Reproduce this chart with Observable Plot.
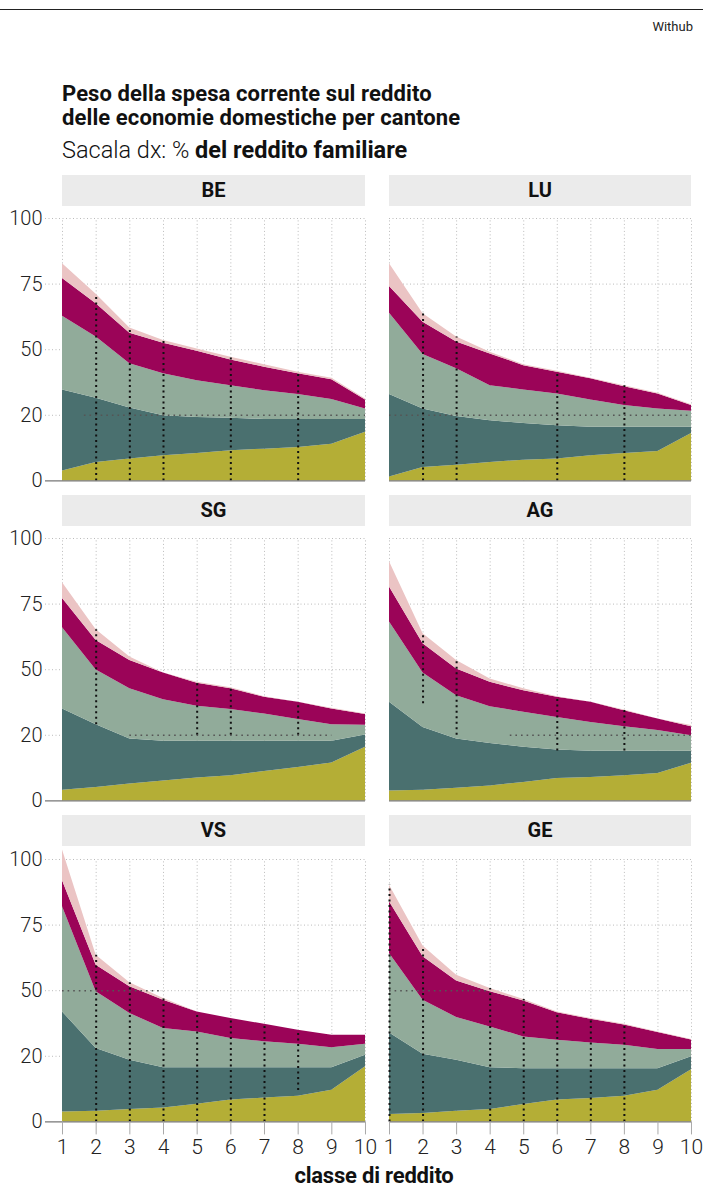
<!DOCTYPE html>
<html><head><meta charset="utf-8">
<script src="https://cdn.jsdelivr.net/npm/d3@7"></script>
<script src="https://cdn.jsdelivr.net/npm/@observablehq/plot@0.6"></script>
<style>
body{margin:0;background:#fff;width:703px;height:1194px;position:relative;overflow:hidden;font-family:Roboto,"Noto Sans",sans-serif;color:#111}
.topline{position:absolute;left:0;top:9px;width:703px;height:0;border-top:1.6px solid #222}
.source{position:absolute;right:10px;top:19px;font-size:13px;color:#222}
.title{position:absolute;left:62px;top:82px;font-size:22px;font-weight:700;line-height:24px;letter-spacing:0.1px;white-space:nowrap}
.subtitle{position:absolute;left:62px;top:136px;font-size:23.5px;font-weight:300;white-space:nowrap}
.subtitle b{font-weight:700}
.hdr{position:absolute;height:31px;background:#ebebeb;font-weight:700;font-size:20px;line-height:31px;text-align:center}
.pan{position:absolute}
.pan svg{overflow:visible;background:transparent !important}
.pan svg text{font-weight:300}
.xtitle{position:absolute;left:0;width:748px;top:1163px;text-align:center;font-weight:700;font-size:22px;letter-spacing:-0.2px}
</style></head>
<body>
<div class="topline"></div>
<div class="source">Withub</div>
<div class="title">Peso della spesa corrente sul reddito<br>delle economie domestiche per cantone</div>
<div class="subtitle">Sacala dx: % <b>del reddito familiare</b></div>
<div class="xtitle">classe di reddito</div>
<script>
// ---- data ----
const classes = [1,2,3,4,5,6,7,8,9,10];
const strati = ["s1","s2","s3","s4","s5"];
const colori = ["#b4ae36","#4a706f","#91ab9a","#9b0458","#ebc4c4"];
const cantons = ["BE","LU","SG","AG","VS","GE"];
const yTicks = [0,25,50,75,100];
const yTickLabels = ["0","20","50","75","100"];

const seriesBE = [
  [3.8,7.0,8.3,9.6,10.4,11.5,12.1,12.7,14.0,18.5],
  [30.8,24.5,19.5,15.2,13.8,12.4,11.3,10.7,9.4,4.9],
  [28.1,23.3,16.8,16.0,14.0,12.4,11.0,9.5,7.6,4.0],
  [14.4,12.7,11.7,11.7,11.2,9.8,8.9,7.9,7.5,3.4],
  [5.7,3.6,2.0,1.0,0.9,1.0,1.0,0.6,0.6,0.4]
];
const seriesLU = [
  [1.5,5.1,6.0,7.0,7.9,8.3,9.6,10.4,11.2,18.1],
  [31.4,22.3,18.5,15.9,14.0,12.7,10.8,10.0,9.2,2.3],
  [31.0,20.8,18.2,13.4,12.7,12.1,10.4,8.3,7.0,6.1],
  [10.2,12.3,10.2,12.1,9.3,8.3,8.1,7.2,5.7,2.2],
  [8.7,3.2,1.9,0.6,0.4,0.4,0.2,0.4,0.3,0.3]
];
const seriesSG = [
  [4.1,5.1,6.4,7.6,8.7,9.6,11.2,12.7,14.4,20.4],
  [30.9,23.9,17.2,15.1,14.0,13.1,11.5,10.0,8.3,4.7],
  [31.0,20.9,19.1,15.8,13.4,12.1,10.4,8.3,6.3,3.7],
  [11.1,11.2,10.8,10.2,8.7,7.9,6.4,6.6,6.0,4.1],
  [6.0,4.1,1.3,0.0,0.4,0.4,0.2,0.0,0.3,0.2]
];
const seriesAG = [
  [3.8,4.1,4.8,5.7,7.0,8.5,8.9,9.6,10.4,14.3],
  [33.8,23.9,18.8,16.2,13.4,10.9,10.0,9.3,8.5,4.6],
  [30.6,20.7,16.5,14.0,13.4,12.4,11.0,9.4,7.9,5.9],
  [13.3,11.2,10.2,9.3,8.2,7.7,7.7,6.1,4.4,3.5],
  [9.6,3.8,3.2,1.3,0.7,0.2,0.0,0.2,0.0,0.4]
];
const seriesVS = [
  [3.8,4.1,4.7,5.3,6.7,8.3,9.1,9.8,12.1,21.0],
  [38.1,23.9,18.8,15.3,13.9,12.3,11.5,10.8,8.5,4.4],
  [40.1,21.6,17.8,15.0,13.7,11.2,9.9,9.0,7.7,4.2],
  [9.9,10.1,10.2,10.8,7.6,7.6,6.7,5.3,4.7,3.4],
  [11.7,3.8,1.5,0.6,0.0,0.0,0.0,0.0,0.0,0.0]
];
const seriesGE = [
  [2.8,3.2,4.1,4.7,6.6,8.3,8.9,9.8,12.1,19.9],
  [31.1,22.6,19.4,15.9,13.7,12.0,11.4,10.5,8.2,4.9],
  [30.3,20.6,16.3,15.6,12.1,10.8,9.8,8.9,7.3,2.8],
  [19.7,16.5,13.9,13.4,13.7,10.5,9.0,7.7,6.5,3.6],
  [6.3,4.1,2.2,1.2,0.5,0.3,0.3,0.3,0.2,0.2]
];
// dotted overlay segments (class, lower value)
const dotsBE = [{x:2,y1:0},{x:3,y1:0},{x:4,y1:0},{x:6,y1:0},{x:8,y1:0}];
const dotsLU = [{x:2,y1:0},{x:3,y1:0},{x:6,y1:0},{x:8,y1:0}];
const dotsSG = [{x:2,y1:29},{x:5,y1:25},{x:6,y1:25},{x:8,y1:25}];
const dotsAG = [{x:2,y1:37},{x:3,y1:25},{x:6,y1:19},{x:8,y1:19}];
const dotsVS = [{x:2,y1:0},{x:3,y1:0},{x:4,y1:0},{x:5,y1:0},{x:6,y1:0},{x:7,y1:0},{x:8,y1:12}];
const dotsGE = [{x:1,y1:0},{x:2,y1:0},{x:4,y1:0},{x:5,y1:0},{x:6,y1:0},{x:7,y1:0},{x:8,y1:0}];
// dotted reference line drawn over the areas
const hlineBE = [{y:25,x1:1.65,x2:10}];
const hlineLU = [{y:25,x1:1,x2:10}];
const hlineSG = [{y:25,x1:3,x2:9}];
const hlineAG = [{y:25,x1:4.6,x2:10}];
const hlineVS = [{y:50,x1:1,x2:4}];
const hlineGE = [{y:50,x1:1,x2:4}];

const seriesBy = {BE:seriesBE,LU:seriesLU,SG:seriesSG,AG:seriesAG,VS:seriesVS,GE:seriesGE};
const dotsBy = {BE:dotsBE,LU:dotsLU,SG:dotsSG,AG:dotsAG,VS:dotsVS,GE:dotsGE};
const hlineBy = {BE:hlineBE,LU:hlineLU,SG:hlineSG,AG:hlineAG,VS:hlineVS,GE:hlineGE};

// ---- layout ----
const headerTops = [175, 495, 815];
const plotTops = [218.3, 538.3, 859.3];
const plotH = 262.4;

cantons.forEach((c, k) => {
  const col = k % 2, row = Math.floor(k / 2);
  const isLeft = col === 0, isBottom = row === 2;
  const series = seriesBy[c];
  const rows = [];
  series.forEach((vals, i) => vals.forEach((v, j) => rows.push({classe: classes[j], strato: strati[i], valore: v})));
  const totals = classes.map((_, j) => d3.sum(series, s => s[j]));

  // header
  const h = document.createElement("div");
  h.className = "hdr";
  h.textContent = c;
  h.style.left = (isLeft ? 62 : 389) + "px";
  h.style.width = (isLeft ? 303 : 302) + "px";
  h.style.top = headerTops[row] + "px";
  document.body.appendChild(h);

  const mt = 20, mb = isBottom ? 50 : 4;
  const svgLeft = isLeft ? 0 : 375;
  const ml = isLeft ? 62 : 14;
  const width = isLeft ? 370 : 328;
  const mr = isLeft ? 5 : 328 - (691 - 375);
  const inset = isLeft ? -17 : 0;

  const marks = [
    Plot.ruleY(yTicks.filter(d => d > 0), {y: d => d, stroke: "#bbb", strokeDasharray: "1,2.5", insetLeft: inset}),
    Plot.ruleX(classes, {x: d => d, y1: 0, y2: 100, stroke: "#bbb", strokeDasharray: "1,2.5"}),
    Plot.areaY(rows, {x: "classe", y: "valore", z: "strato", fill: "strato", curve: "linear"}),
    Plot.ruleX(dotsBy[c], {x: "x", y1: "y1", y2: d => totals[d.x - 1], stroke: "#111", strokeWidth: 2, strokeDasharray: "2,3.5"}),
    Plot.ruleY(hlineBy[c], {y: "y", x1: "x1", x2: "x2", stroke: "#555", strokeWidth: 1.5, strokeDasharray: "1.6,4"}),
    Plot.ruleY([0], {y: d => d, stroke: "#777", strokeWidth: 1.4, insetLeft: inset})
  ];
  if (isLeft) marks.push(Plot.axisY(yTicks, {tickSize: 0, tickPadding: 20, fontSize: 20, tickFormat: d => yTickLabels[yTicks.indexOf(d)], fill: "#222"}));
  if (isBottom) marks.push(Plot.axisX(classes, {tickSize: 13, tickPadding: 4, fontSize: 21, stroke: "#aaa", fill: "#222", tickFormat: d => String(d)}));

  const chart = Plot.plot({
    width, height: mt + plotH + mb,
    marginLeft: ml, marginRight: mr, marginTop: mt, marginBottom: mb,
    style: {fontFamily: "Roboto, 'Noto Sans', sans-serif", background: "transparent", overflow: "visible"},
    x: {domain: [1, 10], label: null, axis: isBottom ? undefined : null},
    y: {domain: [0, 100], label: null, axis: isLeft ? undefined : null},
    color: {domain: strati, range: colori},
    marks
  });
  const wrap = document.createElement("div");
  wrap.className = "pan";
  wrap.style.left = svgLeft + "px";
  wrap.style.top = (plotTops[row] - mt) + "px";
  wrap.appendChild(chart);
  document.body.appendChild(wrap);
});
</script>
</body></html>
